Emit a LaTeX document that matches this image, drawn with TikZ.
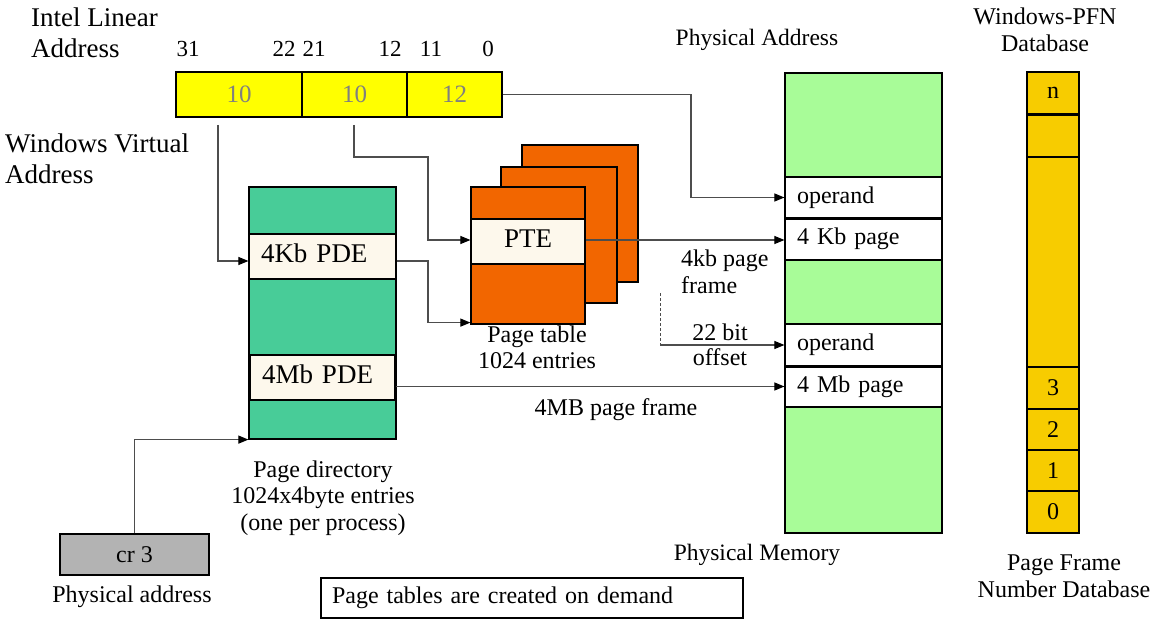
\documentclass[tikz,border=0pt]{standalone}
\usepackage{fontspec}
\setmainfont{Liberation Serif}
\usetikzlibrary{arrows.meta}
\definecolor{barY}{HTML}{FFFF00}
\definecolor{barText}{HTML}{808080}
\definecolor{pdGreen}{HTML}{48CC98}
\definecolor{creamC}{HTML}{FDF8EC}
\definecolor{ptOrange}{HTML}{F26600}
\definecolor{pmGreen}{HTML}{A8FC98}
\definecolor{goldC}{HTML}{F7CC00}
\definecolor{crGray}{HTML}{B3B3B3}
\definecolor{connGray}{HTML}{4D4D4D}
\newcommand\szMain{\fontsize{24pt}{27pt}\selectfont}
\newcommand\szBig{\fontsize{27pt}{30pt}\selectfont}
\newcommand\szNum{\fontsize{23pt}{26pt}\selectfont}
\newcommand\szBar{\fontsize{25pt}{28pt}\selectfont}
\newcommand\szMid{\fontsize{23.5pt}{26pt}\selectfont}
\tikzset{
  box/.style={draw=black, line width=1.2pt, inner sep=0pt},
  rowbox/.style={box, fill=white, inner xsep=12pt, align=left, font=\szMain},
  cellbox/.style={box, fill=goldC, minimum width=52pt, font=\szMain},
  lbl/.style={inner sep=0pt, anchor=base},
  conn/.style={draw=connGray, line width=1.1pt, -{Triangle[length=10pt,width=8pt,color=black]}},
  dashline/.style={draw=connGray, line width=1pt, dashed, dash pattern=on 3pt off 2pt},
}
\begin{document}
\begin{tikzpicture}[x=1pt,y=-1pt]
\useasboundingbox (0,0) rectangle (1158,628);

% ---- top-left labels
\node[lbl, anchor=base west, font=\szBig] (il1) at (31,27) {Intel Linear};
\node[lbl, anchor=base west, font=\szBig] (il2) at (31,58) {Address};
\node[lbl, anchor=base west, font=\szBig] (wv1) at (5,153) {Windows Virtual};
\node[lbl, anchor=base west, font=\szBig] (wv2) at (5,184) {Address};

% ---- bit numbers
\node[lbl, font=\szNum] (b31) at (188,57) {31};
\node[lbl, font=\szNum] (b22) at (284,57) {22};
\node[lbl, font=\szNum] (b21) at (314,57) {21};
\node[lbl, font=\szNum] (b12) at (390,57) {12};
\node[lbl, font=\szNum] (b11) at (431,57) {11};
\node[lbl, font=\szNum] (b0) at (488,57) {0};

% ---- linear address bar
\node[box, fill=barY, minimum width=126pt, minimum height=45pt, font=\szBar, text=barText] (s1) at (239,94.5) {10};
\node[box, fill=barY, minimum width=105pt, minimum height=45pt, font=\szBar, text=barText] (s2) at (354.5,94.5) {10};
\node[box, fill=barY, minimum width=95pt, minimum height=45pt, font=\szBar, text=barText] (s3) at (454.5,94.5) {12};

% ---- page directory
\node[box, fill=pdGreen, minimum width=147pt, minimum height=252pt] (pd) at (322.5,313) {};
\node[box, fill=creamC, minimum height=45pt, text width=123pt, inner xsep=12pt, align=left, font=\szBig, text depth=7pt] (pde4k) at (322.5,256.5) {4Kb PDE};
\node[box, fill=creamC, minimum height=45pt, text width=121pt, inner xsep=12pt, align=left, font=\szBig, text depth=7pt] (pde4m) at (322.5,377.5) {4Mb PDE};
\node[lbl, font=\szMain] (pdl1) at (323,477) {Page directory};
\node[lbl, font=\szMain] (pdl2) at (323,503) {1024x4byte entries};
\node[lbl, font=\szMain] (pdl3) at (323,530) {(one per process)};

% ---- cr3
\node[box, fill=crGray, minimum width=149pt, minimum height=41pt, font=\szMain] (cr3) at (134.5,554.5) {cr 3};
\node[lbl, font=\szMain] (cr3l) at (132,602) {Physical address};

% ---- page tables
\node[box, fill=ptOrange, minimum width=116pt, minimum height=137pt] (pt3) at (580,213.5) {};
\node[box, fill=ptOrange, minimum width=116pt, minimum height=136pt] (pt2) at (559,235) {};
\node[box, fill=ptOrange, minimum width=114pt, minimum height=137pt] (pt1) at (528,255.5) {};
\node[box, fill=creamC, minimum width=114pt, minimum height=45pt, font=\szBig, text depth=6pt] (pte) at (528,241.5) {PTE};
\node[lbl, font=\szMain] (ptl1) at (537,342) {Page table};
\node[lbl, font=\szMain] (ptl2) at (537,368) {1024 entries};

% ---- physical memory
\node[lbl, font=\szMid] (pal) at (757,46) {Physical Address};
\node[box, fill=pmGreen, minimum width=157pt, minimum height=460pt] (pm) at (863.5,303) {};
\node[rowbox, text width=133pt, minimum height=41pt] (op1) at (863.5,197.5) {operand};
\node[rowbox, text width=133pt, minimum height=42pt] (kb4) at (863.5,239) {4 Kb page};
\node[rowbox, text width=133pt, minimum height=42pt] (op2) at (863.5,345) {operand};
\node[rowbox, text width=133pt, minimum height=41pt] (mb4) at (863.5,386.5) {4 Mb page};
\draw[line width=2pt] (op1.south west) -- (op1.south east);
\draw[line width=2pt] (op2.south west) -- (op2.south east);
\node[lbl, font=\szMid] (pml) at (757,560) {Physical Memory};

% ---- PFN database
\node[lbl, font=\szMain] (pfl1) at (1045,25) {Windows-PFN};
\node[lbl, font=\szMain] (pfl2) at (1045,52) {Database};
\node[box, fill=goldC, minimum width=52pt, minimum height=461pt] (pfn) at (1053,302.5) {};
\node[cellbox, minimum height=42pt] (cn) at (1053,93) {n};
\node[cellbox, minimum height=43pt] (ce) at (1053,135.5) {};
\node[cellbox, minimum height=42pt] (c3) at (1053,388) {3};
\node[cellbox, minimum height=41pt] (c2) at (1053,429.5) {2};
\node[cellbox, minimum height=41pt] (c1) at (1053,470.5) {1};
\node[cellbox, minimum height=42pt] (c0) at (1053,512) {0};
\draw[line width=2pt] (cn.south west) -- (cn.south east);
\node[lbl, font=\szMain] (pfl3) at (1064,570) {Page Frame};
\node[lbl, font=\szMain] (pfl4) at (1064,597) {Number Database};

% ---- free labels
\node[lbl, anchor=base west, font=\szMain] (f4k1) at (681,266) {4kb page};
\node[lbl, anchor=base west, font=\szMain] (f4k2) at (681,293) {frame};
\node[lbl, font=\szMain] (f22a) at (720,340) {22 bit};
\node[lbl, font=\szMain] (f22b) at (720,365) {offset};
\node[lbl, font=\szMain] (f4m) at (616,415) {4MB page frame};

% ---- note
\node[box, minimum width=422pt, minimum height=40pt, text width=400pt, inner xsep=11pt, align=left, font=\szMain] (note) at (532,598) {Page tables are created on demand};

% ---- connectors
\coordinate (q1) at (218,125);
\coordinate (q2) at (354,125);
\coordinate (k2) at (428,157);
\coordinate (xj) at (428,0);
\coordinate (xk) at (691,0);
\coordinate (d0) at (660,293);
\coordinate (p4kw) at ([yshift=-4.5pt]pde4k.west);
\coordinate (p4ke) at ([yshift=-4.5pt]pde4k.east);
\coordinate (ptew) at ([yshift=1.5pt]pte.west);
\coordinate (ptee) at ([yshift=1.5pt]pte.east);
\coordinate (pt1b) at ([yshift=2pt]pt1.south west);

\draw[conn] (q1) |- (p4kw);
\draw[conn] (q2) |- (k2) |- (ptew);
\draw[conn] (p4ke) -- (p4ke -| xj) |- (pt1b);
\draw[conn] (ptee) -- (ptee -| kb4.west);
\draw[conn] (s3.east) -- (s3.east -| xk) |- (op1.west);
\draw[dashline] (d0) -- (d0 |- op2.west);
\draw[conn] (d0 |- op2.west) -- (op2.west);
\draw[conn] (pde4m.east |- mb4.west) -- (mb4.west);
\draw[conn] (cr3.north) |- (pd.south west);
\end{tikzpicture}
\end{document}
